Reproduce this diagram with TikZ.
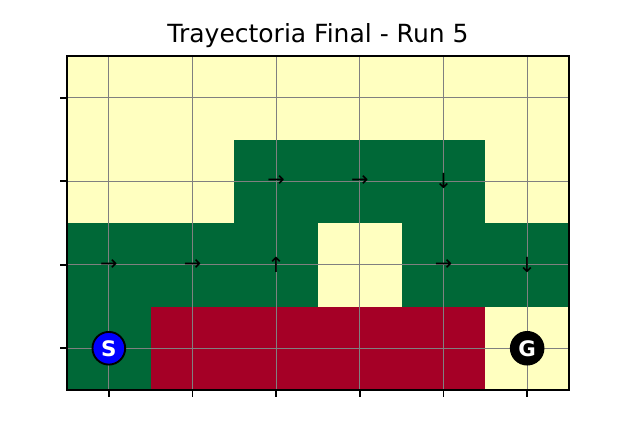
\documentclass[tikz,border=0pt]{standalone}
\usepackage{fontspec}
\setmainfont{DejaVu Sans}
\usepackage{tikz}
\definecolor{cellyellow}{HTML}{FFFFC0}
\definecolor{cellgreen}{HTML}{006837}
\definecolor{cellred}{HTML}{A50026}

\begin{document}
\begin{tikzpicture}[x=62.75pt, y=62.625pt, font=\fontsize{15.6pt}{18pt}\selectfont,
  endpoint/.style={circle, draw=black, line width=1.4pt, minimum size=24.5pt, inner sep=0pt,
    font=\fontsize{16pt}{18pt}\selectfont\bfseries, text=white}]
  \useasboundingbox (-0.8008,-0.3593) rectangle (6.7171,4.6707);

  % GRID — background and cells
  \fill[cellyellow] (0,0) rectangle (6,4);
  \foreach \x/\y in {0/0, 0/1, 1/1, 2/1, 4/1, 5/1, 2/2, 3/2, 4/2}
    \fill[cellgreen] (\x,\y) rectangle ++(1,1);
  \foreach \x in {1,2,3,4}
    \fill[cellred] (\x,0) rectangle ++(1,1);

  % GRID LINES and ticks
  \foreach \x in {0.5,1.5,...,5.5} {
    \draw[gray, line width=0.75pt] (\x,0) -- (\x,4);
    \draw[black, line width=1.2pt] (\x,0) -- ++(0,-5.3pt);
  }
  \foreach \y in {0.5,1.5,...,3.5} {
    \draw[gray, line width=0.75pt] (0,\y) -- (6,\y);
    \draw[black, line width=1.2pt] (0,\y) -- ++(-5.3pt,0);
  }
  \draw[black, line width=1.2pt] (0,0) rectangle (6,4);

  % POLICY arrows
  \foreach \x/\y/\a in {
    0.5/1.5/→, 1.5/1.5/→, 2.5/1.5/↑, 4.5/1.5/→, 5.5/1.5/↓,
    2.5/2.5/→, 3.5/2.5/→, 4.5/2.5/↓}
    \node (arrow-\x-\y) at (\x,\y) {\a};

  % START and GOAL
  \node[endpoint, fill=blue] (start) at (0.5,0.5) {S};
  \node[endpoint, fill=black] (goal) at (5.5,0.5) {G};

  \node[font=\fontsize{18.75pt}{22pt}\selectfont] (title) at (3,4.25) {Trayectoria Final - Run 5};
\end{tikzpicture}
\end{document}
